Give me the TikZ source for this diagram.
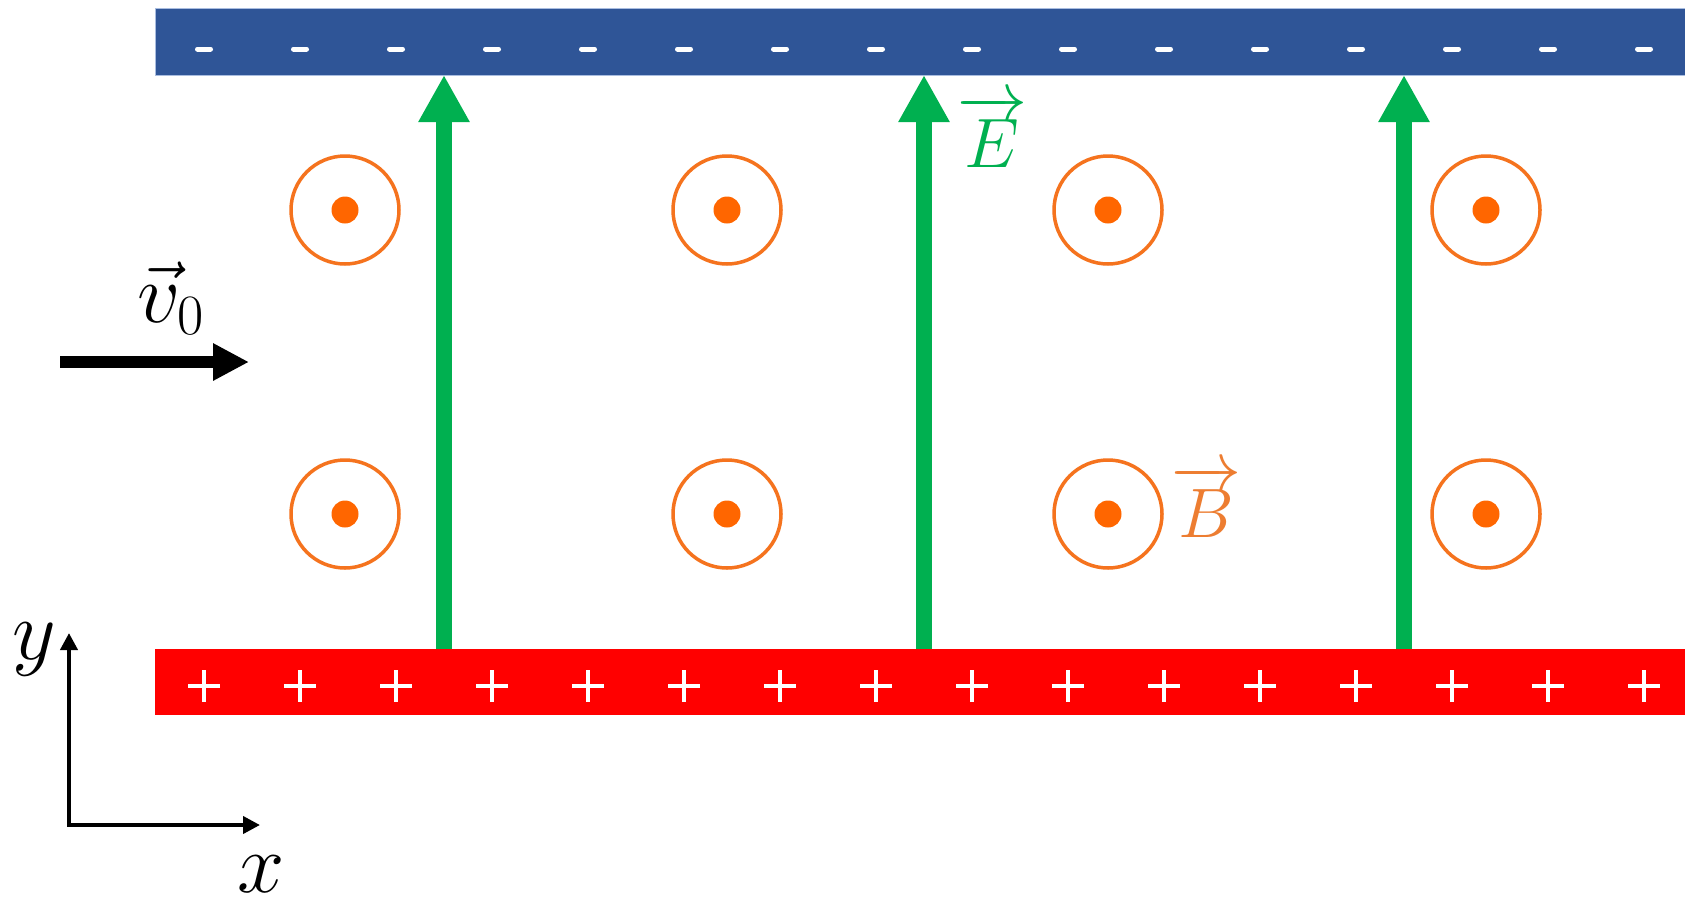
\RequirePackage{fix-cm}
\documentclass[tikz,border=0pt]{standalone}
\usetikzlibrary{arrows.meta}
\definecolor{plateblue}{HTML}{2F5597}
\definecolor{plateedge}{HTML}{A9BDE0}
\definecolor{platered}{HTML}{FF0000}
\definecolor{fieldgreen}{HTML}{00B050}
\definecolor{ringorange}{HTML}{F5731E}
\definecolor{dotorange}{HTML}{FF6600}
\definecolor{labelorange}{HTML}{ED7D31}
\begin{document}
\begin{tikzpicture}[x=1pt,y=-1pt,
  plate/.style={rectangle, inner sep=0pt, outer sep=0pt, minimum width=1530pt, anchor=north west},
  minussign/.style={white, line width=5pt, line cap=round},
  plussign/.style={white, line width=4.5pt},
  efield/.style={fieldgreen, line width=16pt, -{Triangle[width=48pt,length=47pt]}},
  velarrow/.style={black, line width=12pt, -{Triangle[width=35pt,length=36pt]}},
  axisarrow/.style={black, line width=4pt, line join=miter, {Triangle[width=17pt,length=17pt]}-{Triangle[width=17pt,length=17pt]}},
  bring/.style={circle, draw=ringorange, line width=3.5pt, minimum size=108pt, inner sep=0pt},
  bdot/.style={circle, fill=dotorange, minimum size=27pt, inner sep=0pt},
  mathlabel/.style={font=\fontsize{85}{90}\selectfont},
  caplabel/.style={font=\fontsize{70}{76}\selectfont}
]
\useasboundingbox (0,0) rectangle (1685,900);
\fill[white] (0,0) rectangle (1685,900);
% plates
\node[plate, fill=plateblue, draw=plateedge, line width=0.8pt, minimum height=66.5pt] (neg) at (155,8.5) {};
\node[plate, fill=platered, minimum height=66pt] (pos) at (155,649) {};
% charges
\foreach \k in {0,...,15}{
  \pgfmathsetmacro{\cx}{204+96*\k}
  \draw[minussign] (\cx-6.5,49) -- (\cx+6.5,49);
  \draw[plussign] (\cx-16,686) -- (\cx+16,686);
  \draw[plussign] (\cx,670) -- (\cx,702);
}
% magnetic field symbols
\foreach \bx [count=\i] in {345,727,1108,1486}{
  \foreach \by [count=\j] in {210,514}{
    \node[bring] (ring\i\j) at (\bx,\by) {};
    \node[bdot] (dot\i\j) at (ring\i\j.center) {};
  }
}
% electric field arrows
\foreach \ex [count=\i] in {444,924,1404}{
  \coordinate (ec\i) at (\ex,0);
  \draw[efield] (pos.north -| ec\i) -- (neg.south -| ec\i);
}
% labels
\node[caplabel, anchor=base, text=fieldgreen] (Elab) at (992,167) {$\overrightarrow{E}$};
\node[caplabel, anchor=base, text=labelorange] (Blab) at (1206,537) {$\overrightarrow{B}$};
% velocity
\coordinate (vstart) at (60,362);
\coordinate (vend) at (249,362);
\draw[velarrow] (vstart) -- (vend);
\node[mathlabel, anchor=base west, inner sep=0pt] (vlab) at (137,322) {$\vec{v}_{\mbox{\fontsize{57}{57}\selectfont 0}}$};
% axes
\coordinate (origin) at (69,825);
\coordinate (ytip) at (69,633);
\coordinate (xtip) at (260,825);
\draw[axisarrow] (ytip) -- (origin) -- (xtip);
\node[mathlabel, anchor=base, inner sep=0pt] (xlab) at (261,892) {$x$};
\node[mathlabel, anchor=base, inner sep=0pt] (ylab) at (34,659) {$y$};
\end{tikzpicture}
\end{document}
